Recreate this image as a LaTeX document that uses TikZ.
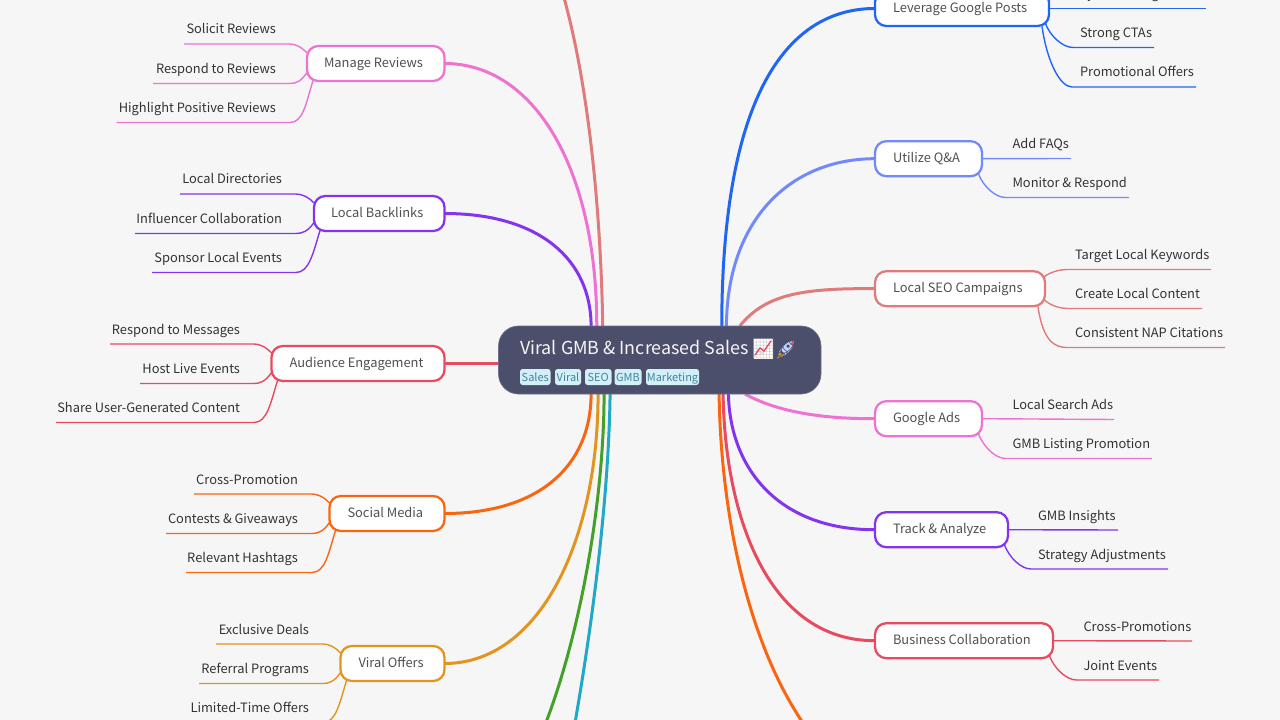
\documentclass[tikz,border=0pt]{standalone}
\usepackage{fontspec}
\setmainfont{Noto Sans CJK SC}
\newfontfamily\emojifont{Noto Emoji}
\usetikzlibrary{backgrounds}
\definecolor{cBlue}{HTML}{1F66F4}
\definecolor{cPeri}{HTML}{7289FB}
\definecolor{cSalm}{HTML}{E07B7B}
\definecolor{cPink}{HTML}{EE72D2}
\definecolor{cPurp}{HTML}{8534EE}
\definecolor{cRed}{HTML}{E84A5F}
\definecolor{cOrng}{HTML}{FB6510}
\definecolor{cAmbr}{HTML}{E2951E}
\definecolor{cGren}{HTML}{45A02A}
\definecolor{cCyan}{HTML}{1FA8C8}
\definecolor{bgc}{HTML}{F6F6F6}
\definecolor{rootc}{HTML}{4C4F6B}
\definecolor{tagfill}{HTML}{D3F0F8}
\definecolor{tagtext}{HTML}{45849C}
\definecolor{leaftext}{HTML}{333333}
\definecolor{branchtext}{HTML}{505050}
\tikzset{
  x=0.75pt,y=-0.75pt,
  bough/.style={line width=2.25pt},
  twig/.style={line width=1.05pt},
  branchbox/.style={draw,line width=1.7pt,fill=white,rounded corners=8.5pt,minimum height=26.25pt,
    inner xsep=0pt,inner ysep=0pt,outer sep=0pt,text=branchtext,font=\fontsize{9.65pt}{12pt}\selectfont,
    text height=9pt,text depth=3pt},
  leafbox/.style={inner xsep=0pt,inner ysep=0pt,outer sep=0pt,text=leaftext,font=\fontsize{9.65pt}{12pt}\selectfont,
    text height=8pt,text depth=7.5pt,anchor=south west},
  tagbox/.style={fill=tagfill,rounded corners=2pt,text=tagtext,inner sep=0pt,outer sep=0pt,minimum height=12pt,
    font=\fontsize{8.25pt}{10pt}\selectfont,text height=8.5pt,text depth=1.5pt},
}
% #1 name #2 colour #3 west #4 east #5 centre y #6 text
\newcommand\branchnode[6]{\node[branchbox,draw=#2,minimum width={(#4-#3)*0.75pt}] (#1) at ({(#3+#4)/2},#5)
  {\makebox[\dimexpr(#4pt-#3pt-36pt)*3/4\relax][l]{#6}};}
% same, with the text one pixel nearer the west side
\newcommand\branchnodeW[6]{\node[branchbox,draw=#2,minimum width={(#4-#3)*0.75pt}] (#1) at ({(#3+#4)/2},#5)
  {\makebox[\dimexpr(#4pt-#3pt-34pt)*3/4\relax][l]{#6}};}
% left leaf: #1 name #2 xstart #3 yline #4 xtextend #5 text
\newcommand\leafL[5]{\node[leafbox] (#1) at (#2,#3) {\makebox[\dimexpr(#4pt-#2pt)*3/4\relax][r]{#5}};}
% right leaf: #1 name #2 xstart #3 yline #4 xend #5 text
\newcommand\leafR[5]{\node[leafbox] (#1) at (#2,#3) {\makebox[\dimexpr(#4pt-#2pt)*3/4\relax][l]{#5}};}
% connectors: #1 parent #2 leaf #3 colour
\newcommand\upL[3]{\draw[twig,#3] ([shift={(0,-10.5)}]#1.west) .. controls +(-6,-6.5) and +(5,0) .. ([xshift=10.5pt]#2.south east) -- (#2.south west);}
\newcommand\downL[3]{\draw[twig,#3] ([shift={(0,9)}]#1.west) .. controls +(-6,9) and +(6,0) .. ([xshift=10.5pt]#2.south east) -- (#2.south west);}
\newcommand\farL[3]{\draw[twig,#3] ([shift={(6,17)}]#1.west) .. controls +(-7,23) and +(13,0) .. ([xshift=10.5pt]#2.south east) -- (#2.south west);}
\newcommand\straightR[3]{\draw[twig,#3] (#1.east) -- (#2.south east);}
\newcommand\upR[3]{\draw[twig,#3] ([shift={(-2,-11)}]#1.east) .. controls +(7,-6) and +(-8,0) .. ([xshift=-5.25pt]#2.south west) -- (#2.south east);}
\newcommand\downR[3]{\draw[twig,#3] ([shift={(-2,10)}]#1.east) .. controls +(7,7) and +(-8,0) .. ([xshift=-5.25pt]#2.south west) -- (#2.south east);}
\newcommand\nextR[3]{\draw[twig,#3] ([shift={(-4,14)}]#1.east) .. controls +(5,14) and +(-10,0) .. ([xshift=-5.25pt]#2.south west) -- (#2.south east);}
\newcommand\farR[3]{\draw[twig,#3] ([shift={(-7,18)}]#1.east) .. controls +(5,35) and +(-12,0) .. ([xshift=-6pt]#2.south west) -- (#2.south east);}
\begin{document}
\begin{tikzpicture}
\useasboundingbox (0,0) rectangle (1280,720);
\clip (0,0) rectangle (1280,720);
% root
\node[fill=rootc,draw=rootc!82!white,line width=0.5pt,rounded corners=15pt,minimum width={322.5*0.75pt},minimum height={68*0.75pt},inner sep=0pt,outer sep=0pt] (root) at (659.75,360) {};
\node[anchor=base west,inner sep=0pt,text=white!95!rootc,font=\fontsize{13.4pt}{18pt}\selectfont] (title) at (520,354.5) {Viral GMB \& Increased Sales};
\fill[white] (753.5,339) rectangle (773,358.5);
\node[anchor=center,inner sep=0pt,font=\fontsize{14.5pt}{18pt}\selectfont\emojifont,text=black!22] (emo) at (763.3,349) {📈};
\draw[cRed,line width=1pt] (755,355) -- (760,348) -- (764,351) -- (771,341);
\fill[white!72!cBlue,rotate around={45:(786,349)}] (786,349) ellipse (10 and 4);
\fill[cRed] (790.5,343.5) -- (794.5,339.5) -- (793,345.5) -- cycle;
\fill[cAmbr] (777,358.5) -- (780,351) -- (784,355) -- cycle;
\node[anchor=center,inner sep=0pt,font=\fontsize{14.5pt}{18pt}\selectfont\emojifont,text=rootc] (emr) at (786,349) {🚀};
\newcommand\tagnode[4]{\node[tagbox,minimum width={(#3-#2)*0.75pt}] (#1) at ({(#2+#3)/2},377) {#4};}
\tagnode{t1}{520}{550.5}{Sales}
\tagnode{t2}{555}{581}{Viral}
\tagnode{t3}{585}{611.5}{SEO}
\tagnode{t4}{614.5}{641.5}{GMB}
\tagnode{t5}{646}{699}{Marketing}
% left branches
\branchnodeW{b1}{cPink}{307}{444.5}{63.5}{Manage Reviews}
\branchnodeW{b2}{cPurp}{314}{444.5}{213.5}{Local Backlinks}
\branchnode{b3}{cRed}{271.5}{444.5}{363.5}{Audience Engagement}
\branchnode{b4}{cOrng}{329.5}{444.5}{513.5}{Social Media}
\branchnode{b5}{cAmbr}{340.5}{444.5}{663.5}{Viral Offers}
% right branches
\branchnode{r1}{cBlue}{875}{1049}{8.5}{Leverage Google Posts}
\branchnode{r2}{cPeri}{875}{982}{158.7}{Utilize Q\&A}
\branchnode{r3}{cSalm}{875}{1045}{288.7}{Local SEO Campaigns}
\branchnode{r4}{cPink}{875}{982}{418.7}{Google Ads}
\branchnode{r5}{cPurp}{875}{1008}{529.7}{Track \& Analyze}
\branchnode{r6}{cRed}{875}{1053}{640.7}{Business Collaboration}
% leaves left
\leafL{a1}{184}{44}{276}{Solicit Reviews}
\leafL{a2}{153}{83.5}{276}{Respond to Reviews}
\leafL{a3}{116.5}{122.5}{276}{Highlight Positive Reviews}
\leafL{c1}{180}{194}{282}{Local Directories}
\leafL{c2}{135}{233.5}{282}{Influencer Collaboration}
\leafL{c3}{152}{272.5}{282}{Sponsor Local Events}
\leafL{d1}{110}{344}{240}{Respond to Messages}
\leafL{d2}{140}{383.5}{240}{Host Live Events}
\leafL{d3}{56}{422.5}{240}{Share User-Generated Content}
\leafL{e1}{194}{494}{298}{Cross-Promotion}
\leafL{e2}{166}{533.5}{298}{Contests \& Giveaways}
\leafL{e3}{186}{572.5}{298}{Relevant Hashtags}
\leafL{f1}{216}{644}{309}{Exclusive Deals}
\leafL{f2}{199}{683.5}{309}{Referral Programs}
\leafL{f3}{189}{722.5}{309}{Limited-Time Offers}
% leaves right
\leafR{g1}{1080}{8.5}{1206}{Eye-Catching Visuals}
\leafR{g2}{1080}{47.5}{1154}{Strong CTAs}
\leafR{g3}{1080}{87}{1196}{Promotional Offers}
\leafR{h1}{1012.5}{158.5}{1071}{Add FAQs}
\leafR{h2}{1012.5}{197.5}{1129}{Monitor \& Respond}
\leafR{i1}{1075}{269.5}{1211}{Target Local Keywords}
\leafR{i2}{1075}{308.5}{1202}{Create Local Content}
\leafR{i3}{1075}{347.5}{1225}{Consistent NAP Citations}
\leafR{j1}{1012.5}{419.5}{1114}{Local Search Ads}
\leafR{j2}{1012.5}{458.5}{1152}{GMB Listing Promotion}
\leafR{k1}{1038}{530}{1118}{GMB Insights}
\leafR{k2}{1038}{569}{1168}{Strategy Adjustments}
\leafR{l1}{1083.5}{641}{1192}{Cross-Promotions}
\leafR{l2}{1083.5}{680}{1159}{Joint Events}
% free ends of the boughs that leave the frame
\coordinate (topfree) at (563,-6);
\coordinate (grfree) at (541,735);
\coordinate (cyfree) at (572,740);
\coordinate (orfree) at (808,730);
\begin{scope}[on background layer]
\fill[bgc] (0,0) rectangle (1280,720);
\draw[bough,cSalm] (topfree) .. controls (590,90) and (601,220) .. ([xshift=-42.75pt]root.north);
\draw[bough,cPink] (b1.east) .. controls (535,63.5) and (597,170) .. ([xshift=-47.25pt]root.north);
\draw[bough,cPurp] (b2.east) .. controls (540,213.5) and (591,260) .. ([xshift=-51.5pt]root.north);
\draw[bough,cRed] (b3.east) -- (root.west |- b3.east);
\draw[bough,cOrng] (b4.east) .. controls (540,513.5) and (591,465) .. ([xshift=-51.5pt]root.south);
\draw[bough,cAmbr] (b5.east) .. controls (540,663.5) and (598,540) .. ([xshift=-46.25pt]root.south);
\draw[bough,cGren] (grfree) .. controls (580,640) and (604,500) .. ([xshift=-41.75pt]root.south);
\draw[bough,cCyan] (cyfree) .. controls (597,600) and (609,480) .. ([xshift=-37.25pt]root.south);
\draw[bough,cBlue] (r1.west) .. controls (790,8.5) and (722,90) .. ([xshift=46.5pt]root.north);
\draw[bough,cPeri] (r2.west) .. controls (790,158.7) and (727,220) .. ([xshift=50pt]root.north);
\draw[bough,cSalm] (r3.west) .. controls (800,288) and (765,295) .. ([xshift=60pt]root.north);
\draw[bough,cPink] (r4.west) .. controls (810,419) and (770,408) .. ([xshift=64pt]root.south);
\draw[bough,cPurp] (r5.west) .. controls (780,530) and (730,470) .. ([xshift=51.5pt]root.south);
\draw[bough,cRed] (r6.west) .. controls (770,641) and (725,520) .. ([xshift=47.5pt]root.south);
\draw[bough,cOrng] (orfree) .. controls (750,650) and (721,520) .. ([xshift=44.5pt]root.south);
\upL{b1}{a1}{cPink}\downL{b1}{a2}{cPink}\farL{b1}{a3}{cPink}
\upL{b2}{c1}{cPurp}\downL{b2}{c2}{cPurp}\farL{b2}{c3}{cPurp}
\upL{b3}{d1}{cRed}\downL{b3}{d2}{cRed}\farL{b3}{d3}{cRed}
\upL{b4}{e1}{cOrng}\downL{b4}{e2}{cOrng}\farL{b4}{e3}{cOrng}
\upL{b5}{f1}{cAmbr}\downL{b5}{f2}{cAmbr}\farL{b5}{f3}{cAmbr}
\straightR{r1}{g1}{cBlue}\nextR{r1}{g2}{cBlue}\farR{r1}{g3}{cBlue}
\straightR{r2}{h1}{cPeri}\nextR{r2}{h2}{cPeri}
\upR{r3}{i1}{cSalm}\downR{r3}{i2}{cSalm}\farR{r3}{i3}{cSalm}
\straightR{r4}{j1}{cPink}\nextR{r4}{j2}{cPink}
\straightR{r5}{k1}{cPurp}\nextR{r5}{k2}{cPurp}
\straightR{r6}{l1}{cRed}\nextR{r6}{l2}{cRed}
\end{scope}
\end{tikzpicture}
\end{document}
